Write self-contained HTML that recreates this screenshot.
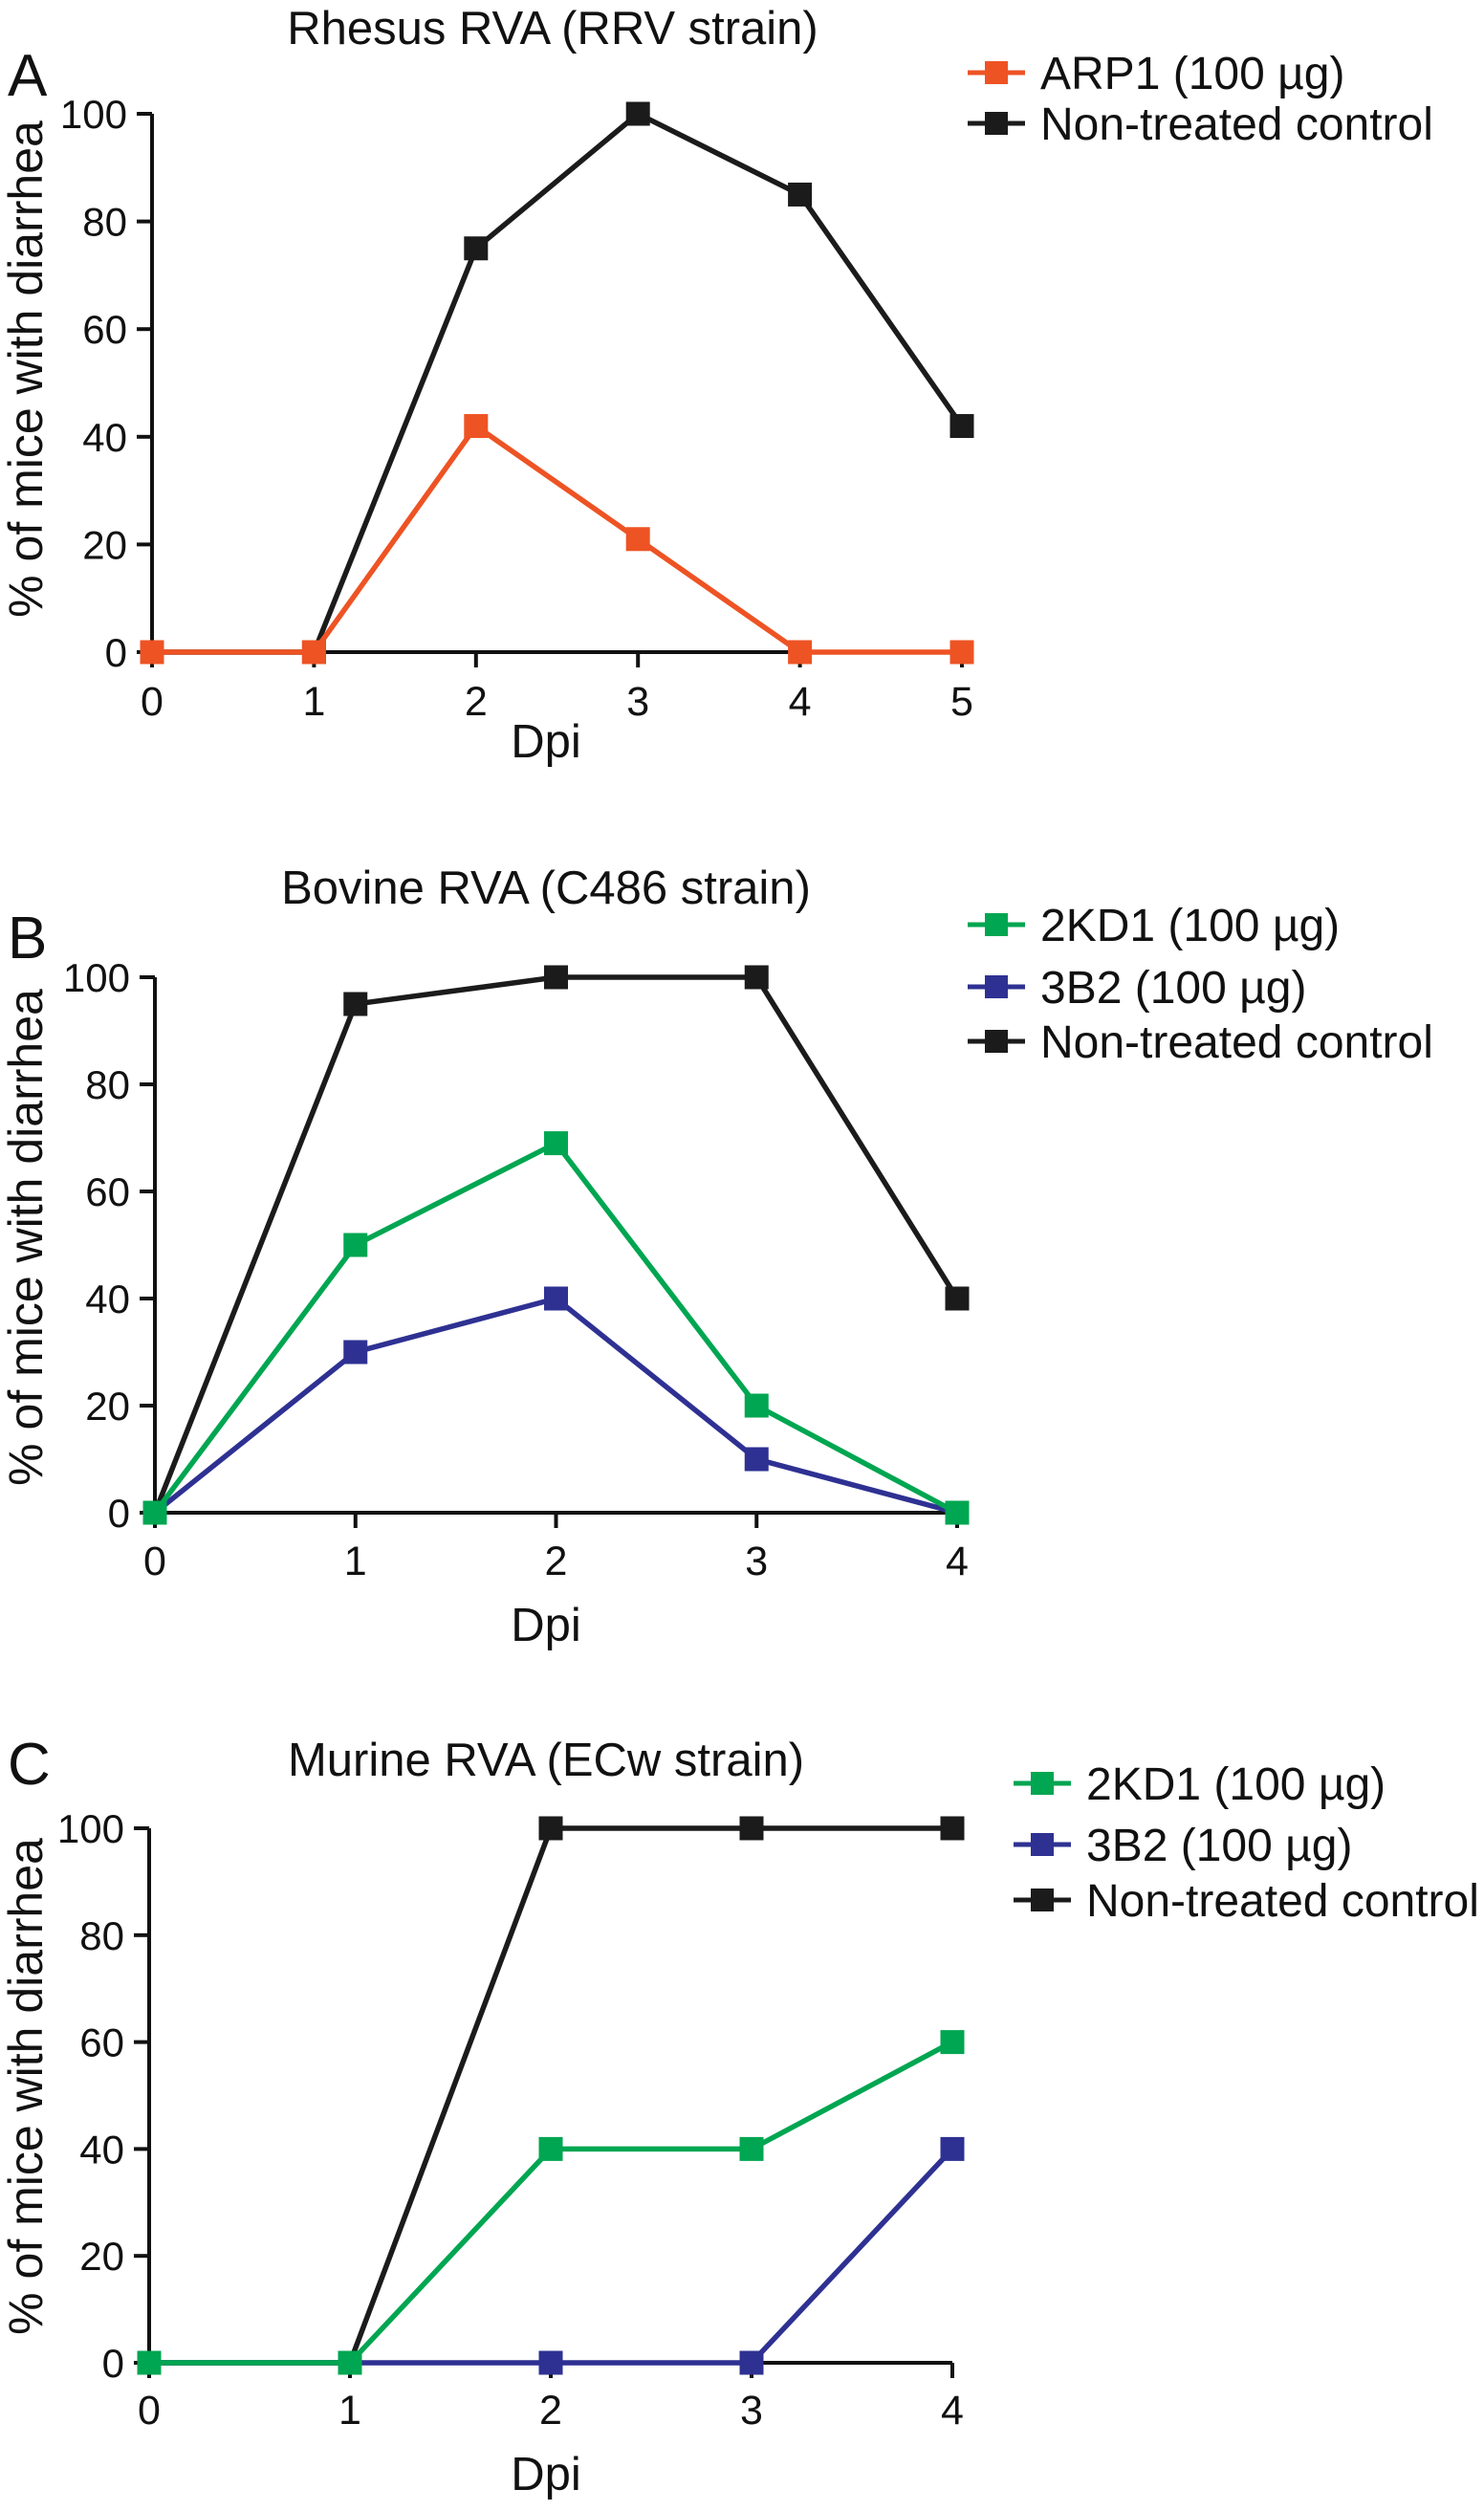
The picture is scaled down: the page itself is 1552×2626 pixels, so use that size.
<!DOCTYPE html>
<html><head><meta charset="utf-8"><style>
html,body{margin:0;padding:0;background:#fff;}
svg{display:block;font-family:"Liberation Sans",Arial,sans-serif;}
</style></head><body>
<svg id="fig" width="1552" height="2626" viewBox="0 0 1552 2626"></svg>
<script>
// Panel A data
const dpiA = [0,1,2,3,4,5];
const arp1A = [0,0,42,21,0,0];
const ctrlA = [0,0,75,100,85,42];
// Panel B data
const dpiB = [0,1,2,3,4];
const kd1B = [0,50,69,20,0];
const b32B = [0,30,40,10,0];
const ctrlB = [0,95,100,100,40];
// Panel C data
const dpiC = [0,1,2,3,4];
const kd1C = [0,0,40,40,60];
const b32C = [0,0,0,0,40];
const ctrlC = [0,0,100,100,100];
const yTicks = [0,20,40,60,80,100];

const NS = "http://www.w3.org/2000/svg";
const svg = document.getElementById('fig');
const COL = {orange:"#ee5324", black:"#1b1b1b", green:"#00a651", blue:"#2e3192"};

function mk(tag, attrs, parent, text){
  const e = document.createElementNS(NS, tag);
  for (const k in attrs) e.setAttribute(k, attrs[k]);
  if (text !== undefined) e.textContent = text;
  (parent||svg).appendChild(e);
  return e;
}

function panel(p){
  const g = mk('g', {});
  
  
  const xMax = p.dpi[p.dpi.length-1];
  const xs = v => p.x0 + (p.x1 - p.x0) * v / xMax;
  const ys = v => p.y0 - (p.y0 - p.y100) * v / 100;

  const letter = mk('text', {x:8, y:p.letterY, 'font-size':62, fill:'#111'}, g, p.id);
  
  
  const title = mk('text', {x:p.titleX, y:p.titleY, 'font-size':49, 'text-anchor':'middle', fill:'#111'}, g, p.title);
  
  

  const ax = mk('path', {d:`M${p.x0},${ys(100)} V${p.y0} H${xs(xMax)}`, stroke:'#111', 'stroke-width':4, fill:'none'}, g);
  
  
  yTicks.forEach(t => {
    const tk = mk('line', {x1:p.x0-16, x2:p.x0, y1:ys(t), y2:ys(t), stroke:'#111', 'stroke-width':4}, g);
    
    
    const lb = mk('text', {x:p.x0-26, y:ys(t)+15, 'font-size':42, 'text-anchor':'end', fill:'#111'}, g, String(t));
    
    
  });
  p.dpi.forEach(d => {
    const tk = mk('line', {x1:xs(d), x2:xs(d), y1:p.y0, y2:p.y0+16, stroke:'#111', 'stroke-width':4}, g);
    
    
    const lb = mk('text', {x:xs(d), y:p.xLabY, 'font-size':43, 'text-anchor':'middle', fill:'#111'}, g, String(d));
    
    
  });
  const xt = mk('text', {x:571, y:p.dpiY, 'font-size':49, 'text-anchor':'middle', fill:'#111'}, g, 'Dpi');
  
  
  const yt = mk('text', {x:0, y:0, 'font-size':50, 'text-anchor':'middle', fill:'#111', transform:`translate(44,${p.yTitleY}) rotate(-90)`}, g, '% of mice with diarrhea');
  
  

  p.series.forEach(s => {
    const sg = mk('g', {}, g);
    
    
    const pts = s.vals.map((v,i) => xs(p.dpi[i]) + ',' + ys(v)).join(' ');
    const ln = mk('polyline', {points:pts, fill:'none', stroke:s.color, 'stroke-width':5.5, 'stroke-linejoin':'miter'}, sg);
    
    
    s.vals.forEach((v,i) => {
      const m = mk('rect', {x:xs(p.dpi[i])-12.5, y:ys(v)-12.5, width:25, height:25, fill:s.color}, sg);
      
      
    });
  });

  p.legend.forEach((l,i) => {
    const y = p.legY[i];
    const lg = mk('g', {}, g);
    
    
    mk('line', {x1:p.legX-30, x2:p.legX+30, y1:y, y2:y, stroke:l.color, 'stroke-width':5}, lg);
    mk('rect', {x:p.legX-12, y:y-12, width:24, height:24, fill:l.color}, lg);
    mk('text', {x:p.legX+46, y:y+17, 'font-size':48, fill:'#111'}, lg, l.label);
  });
}

panel({id:'A', title:'Rhesus RVA (RRV strain)', titleX:578, titleY:46, letterY:100,
  x0:159, x1:1006, y0:682, y100:119, dpi:dpiA, xLabY:748, dpiY:792, yTitleY:386,
  series:[{key:'control', vals:ctrlA, color:COL.black},{key:'arp1', vals:arp1A, color:COL.orange}],
  legX:1042, legY:[76,129],
  legend:[{label:'ARP1 (100 \u00b5g)', color:COL.orange},{label:'Non-treated control', color:COL.black}]});

panel({id:'B', title:'Bovine RVA (C486 strain)', titleX:571, titleY:945, letterY:1002,
  x0:162, x1:1001, y0:1582, y100:1022, dpi:dpiB, xLabY:1647, dpiY:1716, yTitleY:1294,
  series:[{key:'control', vals:ctrlB, color:COL.black},{key:'3b2', vals:b32B, color:COL.blue},{key:'2kd1', vals:kd1B, color:COL.green}],
  legX:1042, legY:[967,1032,1089],
  legend:[{label:'2KD1 (100 \u00b5g)', color:COL.green},{label:'3B2 (100 \u00b5g)', color:COL.blue},{label:'Non-treated control', color:COL.black}]});

panel({id:'C', title:'Murine RVA (ECw strain)', titleX:571, titleY:1857, letterY:1866,
  x0:156, x1:996, y0:2471, y100:1912, dpi:dpiC, xLabY:2535, dpiY:2604, yTitleY:2182,
  series:[{key:'control', vals:ctrlC, color:COL.black},{key:'3b2', vals:b32C, color:COL.blue},{key:'2kd1', vals:kd1C, color:COL.green}],
  legX:1090, legY:[1865,1929,1987],
  legend:[{label:'2KD1 (100 \u00b5g)', color:COL.green},{label:'3B2 (100 \u00b5g)', color:COL.blue},{label:'Non-treated control', color:COL.black}]});
</script>
</body></html>
